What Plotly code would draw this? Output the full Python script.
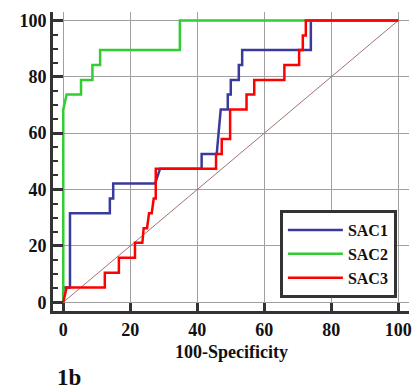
import plotly.graph_objects as go

# ROC curve data (100-Specificity, Sensitivity)
sac1_x = [0, 0, 2, 2, 13.9, 13.9, 14.9, 14.9, 27.4, 28.9, 41.3, 41.3, 45.8, 46.3, 46.6, 47, 49.1, 49.1, 50, 50, 52.4, 52.4, 53.4, 53.4, 73.9, 73.9, 100]
sac1_y = [0, 5.26, 5.26, 31.6, 31.6, 36.8, 36.8, 42.1, 42.1, 47.4, 47.4, 52.6, 52.6, 57.9, 63.2, 68.4, 68.4, 73.7, 73.7, 78.9, 78.9, 84.2, 84.2, 89.5, 89.5, 100, 100]

sac2_x = [0, 0, 1, 5.3, 5.3, 8.7, 8.7, 11, 11, 34.8, 34.8, 100]
sac2_y = [0, 68.4, 73.7, 73.7, 78.9, 78.9, 84.2, 84.2, 89.5, 89.5, 100, 100]

sac3_x = [0, 1, 12.4, 12.4, 16.6, 16.6, 21.4, 21.4, 23.6, 24, 25, 25.6, 26.4, 27, 27.6, 27.6, 45.6, 45.6, 47.3, 47.3, 49.8, 49.8, 54.7, 54.7, 57, 57, 66, 66, 70.4, 70.4, 71.5, 71.5, 72.4, 72.4, 100]
sac3_y = [0, 5.26, 5.26, 10.5, 10.5, 15.8, 15.8, 21.1, 21.1, 26.3, 26.3, 31.6, 31.6, 36.8, 36.8, 47.4, 47.4, 52.6, 52.6, 57.9, 57.9, 68.4, 68.4, 73.7, 73.7, 78.9, 78.9, 84.2, 84.2, 89.5, 89.5, 94.7, 94.7, 100, 100]

ref_x = [0, 100]
ref_y = [0, 100]

tick_vals = [0, 20, 40, 60, 80, 100]
tick_text = ["0", "20", "40", "60", "80", "100"]

SERIF = "Liberation Serif"

fig = go.Figure()
fig.add_trace(go.Scatter(x=ref_x, y=ref_y, mode="lines", showlegend=False,
                         line=dict(color="#a07272", width=1), hoverinfo="skip"))
fig.add_trace(go.Scatter(x=sac1_x, y=sac1_y, mode="lines", name="SAC1",
                         line=dict(color="#3a3a9c", width=2.5)))
fig.add_trace(go.Scatter(x=sac2_x, y=sac2_y, mode="lines", name="SAC2",
                         line=dict(color="#33cc33", width=2.5)))
fig.add_trace(go.Scatter(x=sac3_x, y=sac3_y, mode="lines", name="SAC3",
                         line=dict(color="#ff0000", width=2.5)))

axis_common = dict(
    showgrid=True, gridcolor="#a0a0a0", gridwidth=1,
    zeroline=False, showline=True, linecolor="#333333", linewidth=3,
    tickvals=tick_vals, ticktext=tick_text, automargin=False,
    tickfont=dict(family=SERIF, size=18, color="#111111", weight="bold"),
    ticks="inside", tickcolor="#333333", tickwidth=3,
)

fig.update_xaxes(**axis_common, range=[-3.07, 103.2], ticklen=8)
fig.update_yaxes(**axis_common, range=[-3.1, 103.0], ticklen=10,
                 minor=dict(dtick=5, ticks="inside", ticklen=5, tickwidth=1.5,
                            tickcolor="#333333", showgrid=False))

fig.update_layout(
    width=416, height=390,
    margin=dict(l=53, r=7, t=12, b=79),
    plot_bgcolor="white", paper_bgcolor="white",
    font=dict(family=SERIF, color="#111111"),
    legend=dict(
        x=0.966, y=0.043, xanchor="right", yanchor="bottom",
        bgcolor="white", bordercolor="#333333", borderwidth=3,
        font=dict(family=SERIF, size=16, color="#111111", weight="bold"),
        tracegroupgap=0, itemwidth=55,
    ),
    annotations=[
        dict(text="100-Specificity", xref="paper", yref="paper", x=0.5, y=-0.137,
             xanchor="center", yanchor="middle", showarrow=False,
             font=dict(family=SERIF, size=18, color="#111111", weight="bold")),
        dict(text="1b", xref="paper", yref="paper", x=0.006, y=-0.221,
             xanchor="left", yanchor="middle", showarrow=False,
             font=dict(family=SERIF, size=23, color="#111111", weight="bold")),
    ],
)

fig.write_html("out.html", config={"displayModeBar": False},
               post_script="document.body.style.margin='0';document.body.style.padding='0';document.body.style.overflow='hidden';")
